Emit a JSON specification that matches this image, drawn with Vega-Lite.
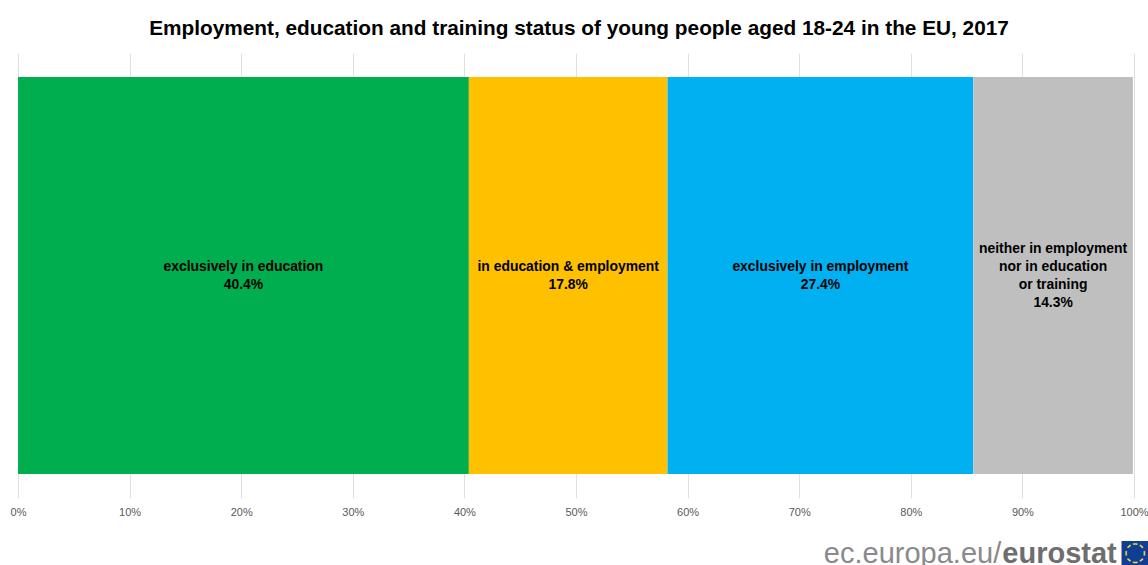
{"$schema":"https://vega.github.io/schema/vega-lite/v6.json","width":1116,"height":445,"padding":{"left":18,"top":53,"right":14,"bottom":67},"autosize":{"type":"none"},"background":"white","view":{"stroke":null},"title":{"text":"Employment, education and training status of young people aged 18-24 in the EU, 2017","font":"Liberation Sans","fontSize":20.8,"fontWeight":"bold","color":"#000000","anchor":"middle","offset":13,"dx":3},"datasets":{"shares":[{"group":"EU","status":"exclusively in education","value":40.4,"order":1,"lines":["exclusively in education","40.4%"]},{"group":"EU","status":"in education & employment","value":17.8,"order":2,"lines":["in education & employment","17.8%"]},{"group":"EU","status":"exclusively in employment","value":27.4,"order":3,"lines":["exclusively in employment","27.4%"]},{"group":"EU","status":"neither in employment nor in education or training","value":14.3,"order":4,"lines":["neither in employment","nor in education","or training","14.3%"]}]},"data":{"name":"shares"},"transform":[{"stack":"value","groupby":["group"],"sort":[{"field":"order","order":"ascending"}],"as":["x0","x1"]},{"calculate":"(datum.x0+datum.x1)/2","as":"mid"}],"encoding":{"y":{"field":"group","type":"nominal","scale":{"paddingInner":0,"paddingOuter":0.0604},"axis":null}},"layer":[{"mark":{"type":"bar"},"encoding":{"x":{"field":"x0","type":"quantitative","scale":{"domain":[0,100],"nice":false},"axis":{"values":[0,10,20,30,40,50,60,70,80,90,100],"labelExpr":"datum.value+'%'","title":null,"grid":true,"gridColor":"#e0e0e0","domain":false,"ticks":false,"labelFont":"Liberation Sans","labelFontSize":11,"labelColor":"#595959","labelPadding":8,"labelFlush":false,"labelOverlap":false}},"x2":{"field":"x1"},"color":{"field":"status","type":"nominal","scale":{"domain":["exclusively in education","in education & employment","exclusively in employment","neither in employment nor in education or training"],"range":["#00ae4f","#ffc000","#00b0f0","#bfbfbf"]},"legend":null}}},{"transform":[{"filter":"datum.order<4"}],"mark":{"type":"text","font":"Liberation Sans","fontSize":13.9,"fontWeight":"bold","color":"#000000","align":"center","baseline":"middle","lineHeight":18,"dy":-9},"encoding":{"x":{"field":"mid","type":"quantitative"},"text":{"field":"lines"}}},{"transform":[{"filter":"datum.order==4"}],"mark":{"type":"text","font":"Liberation Sans","fontSize":13.9,"fontWeight":"bold","color":"#000000","align":"center","baseline":"middle","lineHeight":18,"dy":-27},"encoding":{"x":{"field":"mid","type":"quantitative"},"text":{"field":"lines"}}},{"transform":[{"filter":"datum.order==1"}],"mark":{"type":"text","font":"Liberation Sans","fontSize":29,"color":"#8a8a8a","align":"right","baseline":"alphabetic","dy":287,"clip":false},"encoding":{"x":{"datum":88.1},"text":{"value":"ec.europa.eu/"}}},{"transform":[{"filter":"datum.order==1"}],"mark":{"type":"text","font":"Liberation Sans","fontSize":29,"fontWeight":"bold","color":"#6e6e6e","align":"left","baseline":"alphabetic","dy":287,"clip":false},"encoding":{"x":{"datum":88.2},"text":{"value":"eurostat"}}},{"transform":[{"filter":"datum.order==1"}],"mark":{"type":"text","font":"DejaVu Sans","fontSize":36,"color":"#0f3f94","align":"center","baseline":"middle","dy":277,"clip":false},"encoding":{"x":{"datum":100.1},"text":{"value":"■"}}},{"transform":[{"filter":"datum.order==1"}],"mark":{"type":"text","font":"DejaVu Sans","fontSize":26,"color":"#f2d43a","align":"center","baseline":"middle","dy":276,"clip":false},"encoding":{"x":{"datum":100.1},"text":{"value":"◌"}}}]}
